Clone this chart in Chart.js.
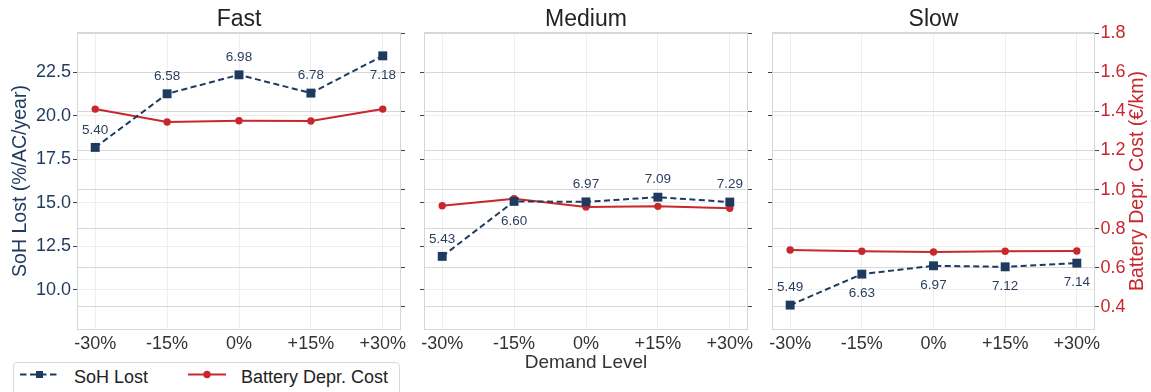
<!DOCTYPE html>
<html>
<head>
<meta charset="utf-8">
<script src="https://cdn.jsdelivr.net/npm/chart.js@4.4.1/dist/chart.umd.min.js"></script>
<style>
  html, body { margin: 0; padding: 0; background: #fff; }
  #wrap { position: relative; width: 1151px; height: 392px; overflow: hidden; font-family: "Liberation Sans", Arial, sans-serif; }
  #wrap canvas { position: absolute; left: 0; top: 0; }
  .legend { position: absolute; left: 13px; top: 362px; width: 387px; height: 44px; box-sizing: border-box;
            border: 1px solid #d9d9d9; border-radius: 4px; background: #fff; }
  .legend svg { position: absolute; }
  .legend span { position: absolute; font-size: 18px; line-height: 18px; color: #222; white-space: nowrap; }
</style>
</head>
<body>
<div id="wrap">
  <canvas id="fast" width="1151" height="392"></canvas>
  <canvas id="medium" width="1151" height="392"></canvas>
  <canvas id="slow" width="1151" height="392"></canvas>
  <div class="legend">
    <svg style="left:5px; top:4px" width="40" height="15">
      <line x1="1" y1="7.5" x2="38" y2="7.5" stroke="#1f3a5f" stroke-width="2" stroke-dasharray="6.5,3.5"/>
      <rect x="17" y="4" width="7" height="7" fill="#1f3a5f"/>
    </svg>
    <span style="left:60px; top:5px">SoH Lost</span>
    <svg style="left:173px; top:4px" width="42" height="15">
      <line x1="1" y1="7.5" x2="39" y2="7.5" stroke="#c8282d" stroke-width="2"/>
      <circle cx="20" cy="7.5" r="3.7" fill="#c8282d"/>
    </svg>
    <span style="left:227px; top:5px">Battery Depr. Cost</span>
  </div>
</div>
<script>
// demand scenarios on the x axis
const demandLevels = [-30, -15, 0, 15, 30];
const demandLabels = ['-30%', '-15%', '0%', '+15%', '+30%'];

// SoH lost (%/AC/year), left axis
const sohFast = [18.19, 21.27, 22.36, 21.31, 23.45];
const sohMedium = [11.93, 15.09, 15.06, 15.33, 15.05];
const sohSlow = [9.13, 10.91, 11.39, 11.33, 11.54];

// battery depreciation cost (€/km), right axis
const costFast = [1.412, 1.346, 1.352, 1.351, 1.412];
const costMedium = [0.917, 0.953, 0.911, 0.914, 0.904];
const costSlow = [0.690, 0.684, 0.680, 0.684, 0.685];

// numbers printed next to the SoH markers
const noteFast = ['5.40', '6.58', '6.98', '6.78', '7.18'];
const noteMedium = ['5.43', '6.60', '6.97', '7.09', '7.29'];
const noteSlow = ['5.49', '6.63', '6.97', '7.12', '7.14'];

const sohTicks = [10, 12.5, 15, 17.5, 20, 22.5];
const costTicks = [0.4, 0.6, 0.8, 1.0, 1.2, 1.4, 1.6, 1.8];

const NAVY = '#1f3a5f';
const RED = '#c8282d';
const FONT = '"Liberation Sans", Arial, sans-serif';

Chart.defaults.font.family = FONT;
Chart.defaults.devicePixelRatio = 1;

// title above each panel
const panelTitle = {
  id: 'panelTitle',
  afterDraw(chart, args, opts) {
    const { ctx, chartArea } = chart;
    ctx.save();
    ctx.font = '23px ' + FONT;
    ctx.fillStyle = '#222';
    ctx.textAlign = 'center';
    ctx.textBaseline = 'alphabetic';
    ctx.fillText(opts.text, (chartArea.left + chartArea.right) / 2, 25.7);
    ctx.restore();
  }
};

// right-hand axis title, reading bottom to top like the left one
const sideTitle = {
  id: 'sideTitle',
  afterDraw(chart, args, opts) {
    if (!opts.text) return;
    const { ctx, chartArea } = chart;
    ctx.save();
    ctx.translate(opts.x, (chartArea.top + chartArea.bottom) / 2);
    ctx.rotate(-Math.PI / 2);
    ctx.font = '19.5px ' + FONT;
    ctx.fillStyle = opts.color;
    ctx.textAlign = 'center';
    ctx.textBaseline = 'middle';
    ctx.fillText(opts.text, 0, 0);
    ctx.restore();
  }
};

// light frame round the plot area
const frame = {
  id: 'frame',
  beforeDatasetsDraw(chart) {
    const { ctx, chartArea: a } = chart;
    ctx.save();
    ctx.strokeStyle = '#d6d6d6';
    ctx.lineWidth = 1;
    ctx.strokeRect(Math.round(a.left) + 0.5, Math.round(a.top) + 0.5,
      Math.round(a.right - a.left) - 1, Math.round(a.bottom - a.top) - 1);
    ctx.restore();
  }
};

// value notes above / below the SoH markers
const sohNotes = {
  id: 'sohNotes',
  afterDatasetsDraw(chart, args, opts) {
    const { ctx } = chart;
    const meta = chart.getDatasetMeta(0);
    ctx.save();
    ctx.font = '13.5px ' + FONT;
    ctx.fillStyle = '#2a3f60';
    ctx.textAlign = 'center';
    ctx.textBaseline = 'alphabetic';
    meta.data.forEach((pt, i) => {
      const dy = opts.sides[i] === 'below' ? 18.5 : -18.5;
      ctx.fillText(opts.labels[i], pt.x, pt.y + dy + 4.8);
    });
    ctx.restore();
  }
};

function leftAxis(show, width) {
  return {
    position: 'left', min: 7.70, max: 24.82,
    afterBuildTicks: s => { s.ticks = sohTicks.map(v => ({ value: v })); },
    afterFit: s => { s.width = width; },
    grid: { color: '#eeeeee', tickColor: '#444', tickLength: 4 },
    border: { display: false },
    ticks: { display: show, padding: 2, color: NAVY, font: { size: 18 }, callback: v => v.toFixed(1) },
    title: { display: show, text: 'SoH Lost (%/AC/year)', color: NAVY, font: { size: 19.5 }, padding: { top: 9.3 } }
  };
}

function rightAxis(show, width) {
  return {
    position: 'right', min: 0.2807, max: 1.8067,
    afterBuildTicks: s => { s.ticks = costTicks.map(v => ({ value: v })); },
    afterFit: s => { s.width = width; },
    grid: { color: '#d9d9d9', tickColor: '#444', tickLength: 4 },
    border: { display: false },
    ticks: { display: show, padding: 1.5, color: RED, font: { size: 18 }, callback: v => v.toFixed(1) },
    title: { display: false }
  };
}

function xAxis(showTitle) {
  return {
    type: 'linear', min: -33.8, max: 33.8,
    afterBuildTicks: s => { s.ticks = demandLevels.map(v => ({ value: v })); },
    afterFit: s => { s.height = 62; },
    grid: { color: '#eeeeee', drawTicks: false },
    border: { display: false },
    ticks: { padding: 3, color: '#333', font: { size: 18 }, maxRotation: 0, autoSkip: false,
             callback: (v, i) => demandLabels[i] },
    title: { display: showTitle, text: 'Demand Level', color: '#333', font: { size: 19 }, padding: { bottom: 17.6 } }
  };
}

function makePanel(id, name, soh, cost, notes, sides, pad, leftW, rightW, showLeft, showRight, showXTitle) {
  new Chart(document.getElementById(id), {
    type: 'line',
    data: {
      datasets: [
        {
          label: 'SoH Lost',
          data: soh.map((v, i) => ({ x: demandLevels[i], y: v })),
          yAxisID: 'y',
          borderColor: NAVY, backgroundColor: NAVY,
          borderWidth: 2, borderDash: [6, 3.5],
          pointStyle: 'rect', pointRadius: 6.3, pointBorderWidth: 0,
          tension: 0
        },
        {
          label: 'Battery Depr. Cost',
          data: cost.map((v, i) => ({ x: demandLevels[i], y: v })),
          yAxisID: 'y1',
          borderColor: RED, backgroundColor: RED,
          borderWidth: 2,
          pointStyle: 'circle', pointRadius: 3.7, pointBorderWidth: 0,
          tension: 0
        }
      ]
    },
    options: {
      responsive: false,
      animation: false,
      layout: { padding: pad },
      plugins: {
        legend: { display: false },
        tooltip: { enabled: false },
        panelTitle: { text: name },
        sideTitle: showRight ? { text: 'Battery Depr. Cost (€/km)', color: RED, x: 1138 } : { text: '' },
        sohNotes: { labels: notes, sides: sides }
      },
      scales: {
        x: xAxis(showXTitle),
        y: leftAxis(showLeft, leftW),
        y1: rightAxis(showRight, rightW)
      }
    },
    plugins: [frame, panelTitle, sideTitle, sohNotes]
  });
}

makePanel('fast', 'Fast', sohFast, costFast, noteFast,
  ['above', 'above', 'above', 'above', 'below'],
  { left: 0, right: 746, top: 32, bottom: 0 }, 77, 4, true, false, false);

makePanel('medium', 'Medium', sohMedium, costMedium, noteMedium,
  ['above', 'below', 'above', 'above', 'above'],
  { left: 420, right: 399, top: 32, bottom: 0 }, 4, 4, false, false, true);

makePanel('slow', 'Slow', sohSlow, costSlow, noteSlow,
  ['above', 'below', 'below', 'below', 'below'],
  { left: 768, right: 0, top: 32, bottom: 0 }, 4, 56, false, true, false);
</script>
</body>
</html>
